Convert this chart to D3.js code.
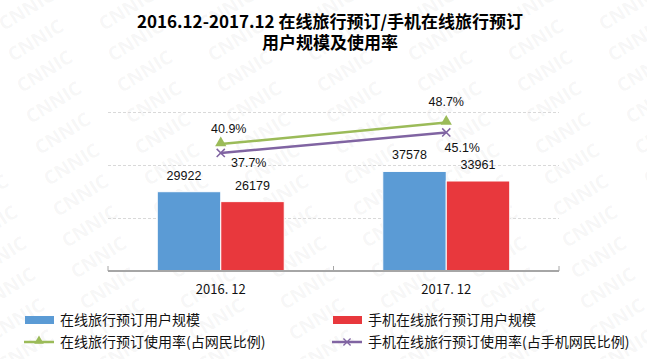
<!DOCTYPE html>
<html>
<head>
<meta charset="utf-8">
<script src="https://cdn.jsdelivr.net/npm/d3@7"></script>
<style>
  body { margin: 0; background: #fff; }
  svg { display: block; }
</style>
</head>
<body>
<div id="chartContainer"></div>
<script>
const categories = ['2016. 12', '2017. 12'];
const onlineUsers = [29922, 37578];
const mobileUsers = [26179, 33961];
const onlineRate = [40.9, 48.7];
const mobileRate = [37.7, 45.1];
const yTicks = [20000, 40000, 60000];

const seriesNames = ['在线旅行预订用户规模', '手机在线旅行预订用户规模',
    '在线旅行预订使用率(占网民比例)', '手机在线旅行预订使用率(占手机网民比例)'];

const width = 647, height = 359;
const colors = { online: '#5b9bd5', mobile: '#e8383d', onlineRate: '#9bbb59', mobileRate: '#8064a2' };

const svg = d3.select('#chartContainer')
    .append('svg')
    .attr('width', width)
    .attr('height', height);

// CNNIC watermark tiled over the whole picture, faint
const marks = [];
for (let r = 0; r < 13; r++) {
    for (let c = -1; c < 8; c++) {
        marks.push({ x: c * 100 + r * 9 + 30, y: r * 31 + 15 });
    }
}
svg.append('g')
    .selectAll('text')
    .data(marks)
    .enter()
    .append('text')
    .attr('transform', d => `translate(${d.x},${d.y}) rotate(-32)`)
    .attr('text-anchor', 'middle')
    .attr('font-family', '"Open Sans", sans-serif')
    .attr('font-size', 19)
    .attr('font-weight', 'bold')
    .attr('fill', '#888')
    .attr('fill-opacity', 0.08)
    .text('CNNIC');

// title
const title = svg.append('text')
    .attr('text-anchor', 'middle')
    .attr('font-family', '"Noto Sans CJK SC", sans-serif')
    .attr('font-weight', 'bold')
    .attr('font-size', 17)
    .attr('fill', '#000');
title.append('tspan').attr('x', 330).attr('y', 28).text('2016.12-2017.12 在线旅行预订/手机在线旅行预订');
title.append('tspan').attr('x', 330).attr('y', 49).text('用户规模及使用率');

// scales
const x0 = d3.scaleBand()
    .domain(categories)
    .range([108, 559]);

const x1 = d3.scaleBand()
    .domain(['online', 'mobile'])
    .range([0, x0.bandwidth()])
    .paddingOuter(0.776);

const y = d3.scaleLinear()
    .domain([0, 60000])
    .range([271, 112]);

const y2 = d3.scaleLinear()
    .domain([-5, 52.5])
    .range([271, 112]);

// gridlines
svg.append('g')
    .selectAll('line')
    .data(yTicks)
    .enter()
    .append('line')
    .attr('x1', 108)
    .attr('x2', 559)
    .attr('y1', d => Math.round(y(d)) + 0.5)
    .attr('y2', d => Math.round(y(d)) + 0.5)
    .attr('stroke', '#d9d9d9')
    .attr('stroke-dasharray', '3,2');

// bars
const groups = svg.selectAll('.cat')
    .data(categories)
    .enter()
    .append('g')
    .attr('transform', d => `translate(${x0(d)},0)`);

groups.selectAll('rect')
    .data((d, i) => [
        { key: 'online', value: onlineUsers[i] },
        { key: 'mobile', value: mobileUsers[i] }
    ])
    .enter()
    .append('rect')
    .attr('x', d => x1(d.key))
    .attr('y', d => y(d.value))
    .attr('width', x1.bandwidth())
    .attr('height', d => y(0) - y(d.value))
    .attr('fill', d => colors[d.key])
    .attr('stroke', '#fff')
    .attr('stroke-width', 1);

groups.selectAll('.barLabel')
    .data((d, i) => [
        { key: 'online', value: onlineUsers[i] },
        { key: 'mobile', value: mobileUsers[i] }
    ])
    .enter()
    .append('text')
    .attr('x', d => x1(d.key) + x1.bandwidth() / 2 - (d.key === 'online' ? 5 : 0))
    .attr('y', d => y(d.value) - 12)
    .attr('text-anchor', 'middle')
    .attr('font-family', '"Liberation Sans", Arial, sans-serif')
    .attr('font-size', 12.5)
    .attr('fill', '#111')
    .text(d => d.value);

// x axis
const axis = svg.append('g')
    .attr('transform', 'translate(0,271)')
    .call(d3.axisBottom(x0).tickSize(0).tickPadding(14));
axis.select('.domain').remove();
axis.selectAll('text')
    .attr('font-family', '"Noto Sans CJK SC", sans-serif')
    .attr('font-size', 13)
    .attr('fill', '#111');
svg.append('line')
    .attr('x1', 108).attr('x2', 559)
    .attr('y1', 271).attr('y2', 271)
    .attr('stroke', '#a6a6a6')
    .attr('stroke-width', 2);
svg.selectAll('.tickMark')
    .data([108, x0(categories[1]), 559])
    .enter()
    .append('line')
    .attr('x1', d => d).attr('x2', d => d)
    .attr('y1', 266).attr('y2', 271)
    .attr('stroke', '#a6a6a6');

// lines
const cx = d => x0(d) + x0.bandwidth() / 2;
const line = d3.line()
    .x(d => cx(d.cat))
    .y(d => y2(d.value));

const onlinePts = categories.map((c, i) => ({ cat: c, value: onlineRate[i] }));
const mobilePts = categories.map((c, i) => ({ cat: c, value: mobileRate[i] }));

svg.append('path')
    .datum(onlinePts)
    .attr('fill', 'none')
    .attr('stroke', colors.onlineRate)
    .attr('stroke-width', 2.5)
    .attr('d', line);

svg.append('path')
    .datum(mobilePts)
    .attr('fill', 'none')
    .attr('stroke', colors.mobileRate)
    .attr('stroke-width', 2.5)
    .attr('d', line);

const tri = d3.symbol().type(d3.symbolTriangle).size(55);
svg.selectAll('.tri')
    .data(onlinePts)
    .enter()
    .append('path')
    .attr('d', tri)
    .attr('transform', d => `translate(${cx(d.cat)},${y2(d.value) - 1})`)
    .attr('fill', colors.onlineRate);

svg.selectAll('.cross')
    .data(mobilePts)
    .enter()
    .append('path')
    .attr('d', d3.symbol().type(d3.symbolX).size(45))
    .attr('transform', d => `translate(${cx(d.cat)},${y2(d.value)})`)
    .attr('fill', 'none')
    .attr('stroke', colors.mobileRate)
    .attr('stroke-width', 1.5);

// rate labels (manually nudged like the original)
const onlineNudge = [[8, -11], [0, -17]];
const mobileNudge = [[28, 14], [16, 20]];

svg.selectAll('.onlineLabel')
    .data(onlinePts)
    .enter()
    .append('text')
    .attr('x', (d, i) => cx(d.cat) + onlineNudge[i][0])
    .attr('y', (d, i) => y2(d.value) + onlineNudge[i][1])
    .attr('text-anchor', 'middle')
    .attr('font-family', '"Liberation Sans", Arial, sans-serif')
    .attr('font-size', 12.5)
    .attr('fill', '#111')
    .text(d => d.value.toFixed(1) + '%');

svg.selectAll('.mobileLabel')
    .data(mobilePts)
    .enter()
    .append('text')
    .attr('x', (d, i) => cx(d.cat) + mobileNudge[i][0])
    .attr('y', (d, i) => y2(d.value) + mobileNudge[i][1])
    .attr('text-anchor', 'middle')
    .attr('font-family', '"Liberation Sans", Arial, sans-serif')
    .attr('font-size', 12.5)
    .attr('fill', '#111')
    .text(d => d.value.toFixed(1) + '%');

// legend
const legend = svg.append('g')
    .attr('font-family', '"Noto Sans CJK SC", sans-serif')
    .attr('font-size', 14)
    .attr('fill', '#111');

const legendItems = [
    { name: seriesNames[0], type: 'bar', color: colors.online, x: 25, y: 320 },
    { name: seriesNames[1], type: 'bar', color: colors.mobile, x: 333, y: 320 },
    { name: seriesNames[2], type: 'tri', color: colors.onlineRate, x: 25, y: 342 },
    { name: seriesNames[3], type: 'cross', color: colors.mobileRate, x: 333, y: 342 }
];

legendItems.forEach(item => {
    const g = legend.append('g').attr('transform', `translate(${item.x},${item.y})`);
    if (item.type === 'bar') {
        g.append('rect').attr('x', 0).attr('y', -4).attr('width', 29).attr('height', 8).attr('fill', item.color);
    } else {
        g.append('line').attr('x1', -1).attr('x2', 29).attr('y1', 0).attr('y2', 0)
            .attr('stroke', item.color).attr('stroke-width', 2.5);
        if (item.type === 'tri') {
            g.append('path').attr('d', d3.symbol().type(d3.symbolTriangle).size(40))
                .attr('transform', 'translate(14,-1)').attr('fill', item.color);
        } else {
            g.append('path').attr('d', d3.symbol().type(d3.symbolX).size(35))
                .attr('transform', 'translate(14,0)').attr('fill', 'none')
                .attr('stroke', item.color).attr('stroke-width', 1.3);
        }
    }
    g.append('text').attr('x', 35).attr('y', 5).text(item.name);
});
</script>
</body>
</html>
